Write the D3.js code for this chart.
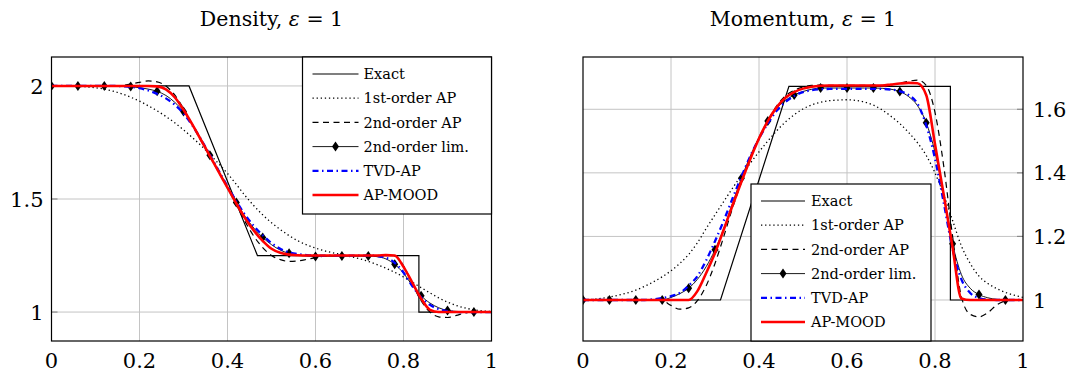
<!DOCTYPE html>
<html>
<head>
<meta charset="utf-8">
<script src="https://cdn.jsdelivr.net/npm/d3@7"></script>
<style>
  body { margin: 0; background: #fff; }
  svg { display: block; }
  text { font-family: "DejaVu Serif", serif; fill: #000; }
</style>
</head>
<body>
<svg id="chart" width="1078" height="376"></svg>
<script>
// cell positions shared by every numerical series
const xGrid = [0, 0.02, 0.04, 0.06, 0.08, 0.1, 0.12, 0.14, 0.16, 0.18,
  0.2, 0.22, 0.24, 0.26, 0.28, 0.3, 0.32, 0.34, 0.36, 0.38,
  0.4, 0.42, 0.44, 0.46, 0.48, 0.5, 0.52, 0.54, 0.56, 0.58,
  0.6, 0.62, 0.64, 0.66, 0.68, 0.7, 0.72, 0.74, 0.76, 0.78,
  0.8, 0.82, 0.84, 0.86, 0.88, 0.9, 0.92, 0.94, 0.96, 0.98, 1]

const xTicks = [0, 0.2, 0.4, 0.6, 0.8, 1]
const xTickLabels = ['0', '0.2', '0.4', '0.6', '0.8', '1']
const rhoTicks = [1, 1.5, 2]
const rhoTickLabels = ['1', '1.5', '2']
const momTicks = [1, 1.2, 1.4, 1.6]
const momTickLabels = ['1', '1.2', '1.4', '1.6']

const legendLabels = ['Exact', '1st-order AP', '2nd-order AP', '2nd-order lim.', 'TVD-AP', 'AP-MOOD']

// exact solution (corner points)
const exactX = [0, 0.3125, 0.468, 0.835, 0.835, 1]
const rhoExact = [2, 2, 1.25, 1.25, 1, 1]
const momExact = [1, 1, 1.672, 1.672, 1, 1]

// density
const rhoFirst = [2, 2, 1.999, 1.998, 1.996, 1.992, 1.986, 1.977, 1.965, 1.95,
  1.933, 1.912, 1.89, 1.865, 1.837, 1.806, 1.772, 1.736, 1.697, 1.656,
  1.613, 1.565, 1.515, 1.47, 1.43, 1.395, 1.365, 1.338, 1.315, 1.297,
  1.283, 1.271, 1.262, 1.254, 1.245, 1.236, 1.224, 1.21, 1.194, 1.176,
  1.155, 1.132, 1.108, 1.085, 1.063, 1.044, 1.029, 1.018, 1.01, 1.005, 1.002]
const rhoSecond = [2, 2, 2, 2, 2, 2, 2, 2, 2.002, 2.008,
  2.016, 2.022, 2.018, 2, 1.96, 1.9, 1.83, 1.757, 1.688, 1.618,
  1.548, 1.475, 1.4, 1.335, 1.285, 1.25, 1.232, 1.224, 1.226, 1.233,
  1.241, 1.247, 1.25, 1.25, 1.25, 1.25, 1.25, 1.25, 1.254, 1.248,
  1.205, 1.125, 1.05, 1, 0.979, 0.976, 0.985, 0.996, 1, 1, 1]
const rhoLim = [2, 2, 2, 2, 2, 2, 2, 2, 2, 1.997,
  1.992, 1.986, 1.976, 1.958, 1.928, 1.887, 1.832, 1.765, 1.694, 1.622,
  1.553, 1.485, 1.423, 1.371, 1.33, 1.298, 1.274, 1.26, 1.252, 1.248,
  1.246, 1.247, 1.247, 1.248, 1.248, 1.248, 1.248, 1.245, 1.235, 1.211,
  1.172, 1.118, 1.072, 1.04, 1.019, 1.007, 1.003, 1.001, 1, 1, 1]
const rhoTvd = [2, 2, 2, 2, 2, 2, 2, 2, 1.999, 1.996,
  1.99, 1.98, 1.965, 1.945, 1.917, 1.878, 1.826, 1.763, 1.695, 1.625,
  1.556, 1.49, 1.43, 1.38, 1.34, 1.305, 1.28, 1.264, 1.256, 1.252,
  1.25, 1.25, 1.25, 1.25, 1.25, 1.25, 1.25, 1.248, 1.24, 1.218,
  1.175, 1.115, 1.065, 1.032, 1.013, 1.004, 1.001, 1, 1, 1, 1]
const rhoMood = [2, 2, 2, 2, 2, 2, 2, 2, 2, 2,
  2, 2, 1.998, 1.985, 1.95, 1.895, 1.83, 1.76, 1.69, 1.62,
  1.55, 1.48, 1.415, 1.36, 1.315, 1.28, 1.262, 1.254, 1.251, 1.25,
  1.25, 1.25, 1.25, 1.25, 1.25, 1.25, 1.25, 1.25, 1.252, 1.25,
  1.2, 1.13, 1.06, 1.01, 1, 1, 1, 1, 1, 1, 1]

// momentum
const momFirst = [1, 1.002, 1.005, 1.009, 1.015, 1.022, 1.031, 1.043, 1.057, 1.073,
  1.092, 1.115, 1.143, 1.18, 1.225, 1.268, 1.31, 1.352, 1.392, 1.43,
  1.466, 1.5, 1.532, 1.56, 1.583, 1.601, 1.614, 1.622, 1.627, 1.629,
  1.63, 1.628, 1.623, 1.613, 1.598, 1.578, 1.555, 1.527, 1.495, 1.455,
  1.4, 1.33, 1.25, 1.17, 1.115, 1.075, 1.052, 1.036, 1.024, 1.015, 1.008]
const momSecond = [1, 1, 1, 1, 1, 1, 1, 1, 1, 0.998,
  0.983, 0.971, 0.975, 0.998, 1.045, 1.115, 1.2, 1.29, 1.37, 1.445,
  1.51, 1.565, 1.61, 1.642, 1.66, 1.67, 1.675, 1.676, 1.675, 1.675,
  1.675, 1.675, 1.675, 1.675, 1.675, 1.677, 1.682, 1.688, 1.692, 1.675,
  1.59, 1.42, 1.2, 1.01, 0.955, 0.947, 0.96, 0.984, 0.997, 1, 1]
const momLim = [1, 1, 1, 1, 1, 1, 1, 1, 1, 1,
  1.008, 1.02, 1.037, 1.065, 1.105, 1.158, 1.225, 1.305, 1.383, 1.452,
  1.512, 1.563, 1.603, 1.628, 1.645, 1.656, 1.663, 1.667, 1.667, 1.667,
  1.667, 1.667, 1.667, 1.667, 1.666, 1.663, 1.656, 1.64, 1.612, 1.558,
  1.465, 1.33, 1.177, 1.08, 1.037, 1.017, 1.007, 1.002, 1, 1, 1]
const momTvd = [1, 1, 1, 1, 1, 1, 1, 1, 1.002, 1.006,
  1.012, 1.022, 1.045, 1.075, 1.125, 1.185, 1.25, 1.32, 1.388, 1.452,
  1.508, 1.555, 1.595, 1.623, 1.642, 1.654, 1.66, 1.663, 1.664, 1.664,
  1.664, 1.664, 1.664, 1.664, 1.664, 1.662, 1.657, 1.645, 1.618, 1.55,
  1.445, 1.305, 1.16, 1.065, 1.022, 1.006, 1.001, 1, 1, 1, 1]
const momMood = [1, 1, 1, 1, 1, 1, 1, 1, 1, 1,
  1, 1, 1, 1.028, 1.085, 1.148, 1.222, 1.298, 1.372, 1.443,
  1.508, 1.563, 1.606, 1.636, 1.654, 1.665, 1.671, 1.674, 1.675, 1.675,
  1.675, 1.675, 1.675, 1.675, 1.675, 1.678, 1.681, 1.683, 1.682, 1.645,
  1.49, 1.33, 1.165, 1.005, 1, 1, 1, 1, 1, 1, 1]

const styles = [
  { stroke: '#000', width: 1.2, dash: null },
  { stroke: '#000', width: 1.3, dash: '1.3,2.8' },
  { stroke: '#000', width: 1.2, dash: '6,4.5' },
  { stroke: '#000', width: 0.9, dash: null, marker: true },
  { stroke: '#0000ff', width: 2.3, dash: '6,3.5,1.5,3.5' },
  { stroke: '#ff0000', width: 2.6, dash: null },
]

const panels = [
  {
    title: 'Density', left: 51.5, right: 491.5, yDomain: [0.872, 2.128],
    yTicks: rhoTicks, yTickLabels: rhoTickLabels, ySide: 'left',
    exact: rhoExact, series: [rhoFirst, rhoSecond, rhoLim, rhoTvd, rhoMood],
    legend: { x: 302.5, y: 57, w: 189, h: 157, textOff: 61, lineEnd: 56 },
  },
  {
    title: 'Momentum', left: 583, right: 1023, yDomain: [0.871, 1.7645],
    yTicks: momTicks, yTickLabels: momTickLabels, ySide: 'right',
    exact: momExact, series: [momFirst, momSecond, momLim, momTvd, momMood],
    legend: { x: 751, y: 184, w: 180, h: 157, textOff: 60, lineEnd: 54 },
  },
]

const plotTop = 57, plotBottom = 341
const svg = d3.select('#chart')
const diamond = 'M0,-5L3.5,0L0,5L-3.5,0Z'

panels.forEach((p, pi) => {
  const x = d3.scaleLinear().domain([0, 1]).range([p.left, p.right])
  const y = d3.scaleLinear().domain(p.yDomain).range([plotBottom, plotTop])
  const g = svg.append('g')

  g.append('clipPath').attr('id', 'clip' + pi)
    .append('rect')
      .attr('x', p.left).attr('y', plotTop)
      .attr('width', p.right - p.left).attr('height', plotBottom - plotTop)

  // grid
  g.selectAll('.vgrid').data(xTicks.slice(1, -1)).enter().append('line')
    .attr('x1', (d) => x(d)).attr('x2', (d) => x(d))
    .attr('y1', plotTop).attr('y2', plotBottom)
    .attr('stroke', '#c4c4c4').attr('stroke-width', 1)
  g.selectAll('.hgrid').data(p.yTicks).enter().append('line')
    .attr('x1', p.left).attr('x2', p.right)
    .attr('y1', (d) => y(d)).attr('y2', (d) => y(d))
    .attr('stroke', '#c4c4c4').attr('stroke-width', 1)

  // small tick marks on the labelled side
  const edge = p.ySide === 'left' ? p.left : p.right
  const dir = p.ySide === 'left' ? 1 : -1
  g.selectAll('.ytick').data(p.yTicks).enter().append('line')
    .attr('x1', edge).attr('x2', edge + dir * 6)
    .attr('y1', (d) => y(d)).attr('y2', (d) => y(d))
    .attr('stroke', '#8a8a8a').attr('stroke-width', 1.2)

  const plot = g.append('g').attr('clip-path', `url(#clip${pi})`)
  const line = d3.line().x((d) => x(d[0])).y((d) => y(d[1]))
  const smooth = d3.line().x((d) => x(d[0])).y((d) => y(d[1])).curve(d3.curveMonotoneX)

  // exact
  plot.append('path')
    .attr('d', line(exactX.map((v, i) => [v, p.exact[i]])))
    .attr('fill', 'none').attr('stroke', styles[0].stroke)
    .attr('stroke-width', styles[0].width)

  p.series.forEach((vals, si) => {
    const st = styles[si + 1]
    const pts = xGrid.map((v, i) => [v, vals[i]])
    plot.append('path')
      .attr('d', smooth(pts))
      .attr('fill', 'none').attr('stroke', st.stroke)
      .attr('stroke-width', st.width)
      .attr('stroke-dasharray', st.dash)
      .attr('stroke-linejoin', 'round')
    if (st.marker) {
      plot.selectAll('.mk').data(pts.filter((d, i) => i % 3 === 0)).enter().append('path')
        .attr('d', diamond)
        .attr('transform', (d) => `translate(${x(d[0])},${y(d[1])})`)
        .attr('fill', '#000')
    }
  })

  // frame
  g.append('rect')
    .attr('x', p.left).attr('y', plotTop)
    .attr('width', p.right - p.left).attr('height', plotBottom - plotTop)
    .attr('fill', 'none').attr('stroke', '#000').attr('stroke-width', 1.2)

  // tick labels
  g.selectAll('.xl').data(xTicks).enter().append('text')
    .attr('x', (d) => x(d)).attr('y', 368)
    .attr('text-anchor', 'middle').attr('font-size', 21)
    .text((d, i) => xTickLabels[i])
  g.selectAll('.yl').data(p.yTicks).enter().append('text')
    .attr('x', p.ySide === 'left' ? p.left - 8 : p.right + 10)
    .attr('y', (d) => y(d)).attr('dy', '0.36em')
    .attr('text-anchor', p.ySide === 'left' ? 'end' : 'start')
    .attr('font-size', 21)
    .text((d, i) => p.yTickLabels[i])

  // title
  const t = g.append('text')
    .attr('x', (p.left + p.right) / 2).attr('y', 26)
    .attr('text-anchor', 'middle').attr('font-size', 20.5)
  t.append('tspan').text(p.title + ', ')
  t.append('tspan').attr('font-style', 'italic').text('ε')
  t.append('tspan').text(' = 1')

  // legend
  const L = p.legend
  const lg = g.append('g').attr('transform', `translate(${L.x},${L.y})`)
  lg.append('rect')
    .attr('width', L.w).attr('height', L.h)
    .attr('fill', '#fff').attr('stroke', '#000').attr('stroke-width', 1.2)
  legendLabels.forEach((lab, i) => {
    const st = styles[i]
    const ry = 17 + i * 24.2
    lg.append('line')
      .attr('x1', 10).attr('x2', L.lineEnd).attr('y1', ry).attr('y2', ry)
      .attr('stroke', st.stroke).attr('stroke-width', st.width)
      .attr('stroke-dasharray', st.dash)
    if (st.marker) {
      lg.append('path').attr('d', diamond)
        .attr('transform', `translate(${(10 + L.lineEnd) / 2},${ry})`)
        .attr('fill', '#000')
    }
    lg.append('text')
      .attr('x', L.textOff).attr('y', ry).attr('dy', '0.36em')
      .attr('font-size', 14.5)
      .text(lab)
  })
})
</script>
</body>
</html>
